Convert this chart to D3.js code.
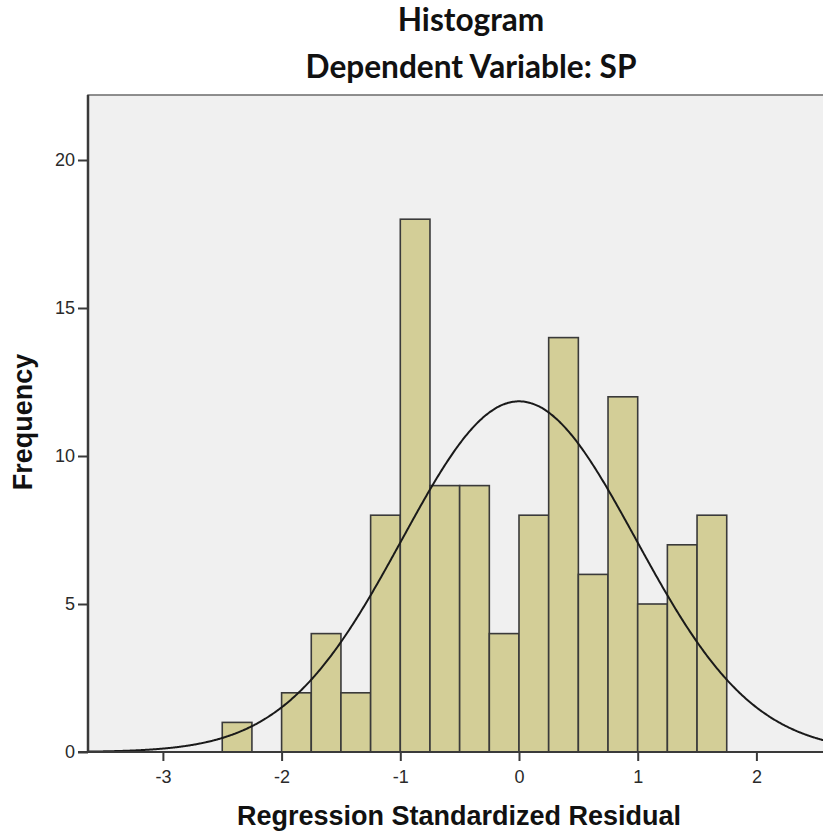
<!DOCTYPE html>
<html>
<head>
<meta charset="utf-8">
<script src="https://cdn.jsdelivr.net/npm/d3@7"></script>
<style>
  html, body { margin: 0; padding: 0; background: #ffffff; }
  svg { display: block; }
</style>
</head>
<body>
<svg id="chart" width="823" height="834"></svg>
<script>
// ---- data ----
const binStarts = [-2.5, -2.25, -2.0, -1.75, -1.5, -1.25, -1.0, -0.75, -0.5, -0.25, 0.0, 0.25, 0.5, 0.75, 1.0, 1.25, 1.5];
const binCounts = [1, 0, 2, 4, 2, 8, 18, 9, 9, 4, 8, 14, 6, 12, 5, 7, 8];
const binWidth = 0.25;
const xTicks = [-3, -2, -1, 0, 1, 2];
const yTicks = [0, 5, 10, 15, 20];
const curveMean = 0.0;
const curveSD = 0.985;
const curveN = 117;
const titleLines = ["Histogram", "Dependent Variable: SP"];
const xLabel = "Regression Standardized Residual";
const yLabel = "Frequency";

// ---- layout ----
const svg = d3.select("#chart");
const pLeft = 88, pTop = 95, pRight = 900, pBottom = 752;

const x = d3.scaleLinear()
  .domain([(pLeft - 519) / 118.7, (pRight - 519) / 118.7])
  .range([pLeft, pRight]);
const y = d3.scaleLinear().domain([0, (pBottom - pTop) / 29.6]).range([pBottom, pTop]);

// plot background
svg.append("rect")
  .attr("x", pLeft).attr("y", pTop)
  .attr("width", pRight - pLeft).attr("height", pBottom - pTop)
  .attr("fill", "#f0f0f0")
  .attr("stroke", "#6b6b6b").attr("stroke-width", 1.5);

// bars
svg.append("g").selectAll("rect")
  .data(binStarts.map((s, i) => ({ s, c: binCounts[i] })).filter(d => d.c > 0))
  .join("rect")
  .attr("x", d => x(d.s))
  .attr("y", d => y(d.c))
  .attr("width", d => x(d.s + binWidth) - x(d.s))
  .attr("height", d => y(0) - y(d.c))
  .attr("fill", "#d3ce97")
  .attr("stroke", "#3a3a3a")
  .attr("stroke-width", 1.6);

// normal curve
const pts = d3.range(x.domain()[0], x.domain()[1], 0.01).map(v => {
  const z = (v - curveMean) / curveSD;
  const dens = Math.exp(-0.5 * z * z) / (curveSD * Math.sqrt(2 * Math.PI));
  return [v, dens * curveN * binWidth];
});
svg.append("path")
  .attr("d", d3.line().x(d => x(d[0])).y(d => y(d[1])).curve(d3.curveBasis)(pts))
  .attr("fill", "none")
  .attr("stroke", "#1a1a1a")
  .attr("stroke-width", 2);

// axes
const fmt = d => String(d);
const xAxis = d3.axisBottom(x).tickValues(xTicks).tickSize(9).tickPadding(9).tickFormat(fmt);
const gx = svg.append("g").attr("transform", `translate(0,${pBottom})`).call(xAxis);
gx.select(".domain").remove();
gx.append("line").attr("x1", pLeft - 10).attr("x2", pRight).attr("y1", 0).attr("y2", 0)
  .attr("stroke", "#3a3a3a").attr("stroke-width", 2);
gx.selectAll(".tick line").attr("stroke", "#3a3a3a").attr("stroke-width", 2);
gx.selectAll(".tick text").attr("font-family", "Arial, 'Liberation Sans', sans-serif")
  .attr("font-size", 18).attr("fill", "#2a2a2a");

const yAxis = d3.axisLeft(y).tickValues(yTicks).tickSize(10).tickPadding(3).tickFormat(fmt);
const gy = svg.append("g").attr("transform", `translate(${pLeft},0)`).call(yAxis);
gy.select(".domain").remove();
gy.append("line").attr("x1", 0).attr("x2", 0).attr("y1", pTop).attr("y2", pBottom)
  .attr("stroke", "#3a3a3a").attr("stroke-width", 2.5);
gy.selectAll(".tick line").attr("stroke", "#3a3a3a").attr("stroke-width", 2);
gy.selectAll(".tick text").attr("font-family", "Arial, 'Liberation Sans', sans-serif")
  .attr("font-size", 18).attr("fill", "#2a2a2a");

// titles
const titles = svg.selectAll("text.title")
  .data(titleLines)
  .join("text")
  .attr("class", "title")
  .attr("x", 471)
  .attr("y", (d, i) => 31 + i * 47)
  .attr("text-anchor", "middle")
  .attr("font-family", "Lato, 'Open Sans', sans-serif")
  .attr("font-weight", "bold")
  .attr("font-size", 26)
  .attr("fill", "#111")
  .text(d => d);
// fit title size so the second line spans ~331px
const w2 = titles.nodes()[1].getComputedTextLength();
if (w2 > 0) titles.attr("font-size", 26 * 331 / w2);

svg.append("text")
  .attr("x", 459).attr("y", 825)
  .attr("text-anchor", "middle")
  .attr("font-family", "Arial, 'Liberation Sans', sans-serif")
  .attr("font-weight", "bold")
  .attr("font-size", 27)
  .attr("fill", "#111")
  .text(xLabel);

svg.append("text")
  .attr("transform", "translate(32,422) rotate(-90)")
  .attr("text-anchor", "middle")
  .attr("font-family", "Arial, 'Liberation Sans', sans-serif")
  .attr("font-weight", "bold")
  .attr("font-size", 27)
  .attr("fill", "#111")
  .text(yLabel);
</script>
</body>
</html>
